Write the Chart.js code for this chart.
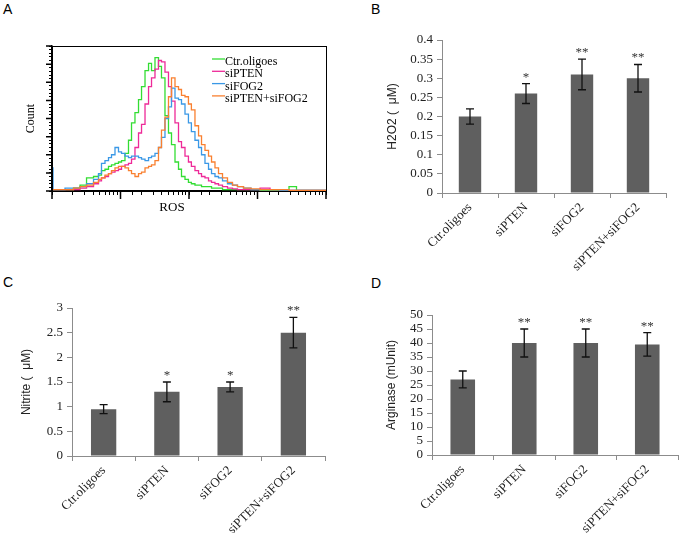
<!DOCTYPE html>
<html>
<head>
<meta charset="utf-8">
<script src="https://cdn.jsdelivr.net/npm/chart.js@4.4.1/dist/chart.umd.min.js"></script>
<style>
  body { margin: 0; background: #fff; width: 679px; height: 533px; position: relative; overflow: hidden; }
  canvas { position: absolute; }
  .tag { position: absolute; font: 14px "Liberation Sans", Arial, sans-serif; line-height: 1; color: #000; }
</style>
</head>
<body>
<div class="tag" style="left:3px;top:2px">A</div>
<div class="tag" style="left:371px;top:2px">B</div>
<div class="tag" style="left:3px;top:275px">C</div>
<div class="tag" style="left:371px;top:276px">D</div>

<canvas id="chartA" width="340" height="240" style="left:0;top:0"></canvas>
<canvas id="chartB" width="339" height="272" style="left:340px;top:0"></canvas>
<canvas id="chartC" width="340" height="271" style="left:0;top:262px"></canvas>
<canvas id="chartD" width="339" height="261" style="left:340px;top:272px"></canvas>

<script>
// panel A: ROS flow histogram (log x, counts)
const rosBins = [1, 1.07, 1.31, 1.83, 2.32, 2.84, 3.59, 4.54, 5.02, 5.55,
  6.35, 7.03, 7.77, 8.89, 9.83, 10.9, 12.4, 13.8, 15.2, 17.4,
  19.3, 21.3, 24.4, 27.0, 29.8, 34.1, 37.7, 41.7, 47.7, 52.8,
  58.4, 66.8, 73.9, 81.7, 93.5, 103, 114, 131, 145, 160,
  183, 203, 224, 256, 284, 335, 397, 469, 555, 703,
  919, 1290, 1800, 2520, 3300, 4170, 5830, 10000];
const ctrCounts = [1, 1, 1, 1, 2, 4, 9, 10, 11, 14,
  15, 17, 18, 19, 20, 21, 26, 35, 47, 54,
  63, 72, 83, 88, 83, 92, 86, 78, 52, 40,
  32, 20, 15, 10, 8, 6, 5, 4, 4, 3,
  3, 3, 2, 2, 2, 1, 1, 1, 1, 1,
  1, 0.5, 0.5, 0.5, 3, 0.5, 0.5, 0.5];
const ptenCounts = [1, 1, 1, 1, 1, 2, 3, 5, 7, 9,
  10, 12, 13, 14, 15, 17, 18, 19, 22, 30,
  40, 46, 60, 72, 78, 84, 90, 89, 82, 72,
  62, 47, 34, 30, 24, 20, 17, 14, 12, 10,
  9, 7, 6, 5, 4, 3, 2, 1.5, 1, 1,
  1, 2, 1, 0.5, 0.5, 0.5, 0.5, 0.5];
const fogCounts = [16, 1, 1, 2, 2, 3, 5, 8, 12, 19,
  21, 23, 25, 30, 27, 26, 24, 23, 24, 24,
  23, 22, 21, 23, 24, 26, 30, 37, 50, 58,
  71, 64, 63, 60, 53, 47, 41, 35, 30, 25,
  19, 15, 12, 10, 9, 7, 5, 4, 3, 2,
  1, 1, 1, 0.5, 0.5, 0.5, 0.5, 0.5];
const bothCounts = [1, 1, 1, 1, 2, 3, 4, 6, 8, 9,
  11, 12, 14, 16, 17, 17, 16, 14, 12, 10,
  12, 13, 16, 17, 18, 21, 30, 42, 51, 65,
  78, 72, 70, 66, 65, 60, 56, 45, 38, 32,
  28, 24, 20, 16, 12, 9, 6, 4, 3, 2,
  1.5, 1, 1, 1, 0.5, 0.5, 0.5, 0.5];
const histLabels = ['Ctr.oligoes', 'siPTEN', 'siFOG2', 'siPTEN+siFOG2'];
const histColors = ['#33dd33', '#ee2a98', '#3a98e6', '#f98030'];

// panels B, C, D: bar charts with SD and significance marks
const groups = ['Ctr.oligoes', 'siPTEN', 'siFOG2', 'siPTEN+siFOG2'];
const h2o2 = [0.2, 0.26, 0.31, 0.3];
const h2o2Err = [0.02, 0.026, 0.04, 0.036];
const h2o2Sig = ['', '*', '**', '**'];
const nitrite = [0.95, 1.3, 1.4, 2.5];
const nitriteErr = [0.09, 0.2, 0.1, 0.31];
const nitriteSig = ['', '*', '*', '**'];
const arginase = [27, 40, 40, 39.5];
const arginaseErr = [3, 5, 5, 4.2];
const arginaseSig = ['', '**', '**', '**'];

const serif = '"Liberation Serif", "Times New Roman", serif';
const sans = '"Liberation Sans", Arial, sans-serif';
Chart.defaults.font.family = serif;
Chart.defaults.color = '#222';
Chart.defaults.animation = false;

// frame, long ticks, legend and x title for the histogram
const flowBox = {
  id: 'flowBox',
  afterDraw(chart) {
    const { ctx, chartArea: a, scales: { x, y } } = chart;
    ctx.save();
    ctx.strokeStyle = '#000';
    ctx.lineWidth = 1;
    ctx.strokeRect(a.left + 0.5, a.top + 0.5, a.right - a.left, a.bottom - a.top);
    ctx.lineWidth = 1.5;
    ctx.beginPath();
    [1, 10, 100, 1000, 10000].forEach(v => {
      const px = x.getPixelForValue(v);
      ctx.moveTo(px, a.bottom);
      ctx.lineTo(px, a.bottom + 8);
    });
    for (let v = 0; v <= 100; v += 12.5) {
      const py = y.getPixelForValue(v);
      ctx.moveTo(a.left, py);
      ctx.lineTo(a.left - 6, py);
    }
    ctx.stroke();

    // legend inside the plot
    ctx.font = '12px ' + serif;
    ctx.textBaseline = 'middle';
    ctx.textAlign = 'left';
    chart.data.datasets.forEach((ds, i) => {
      const ry = a.top + 16 + i * 12.3;
      ctx.strokeStyle = ds.borderColor;
      ctx.lineWidth = 1.3;
      ctx.beginPath();
      ctx.moveTo(a.left + 160, ry - 3);
      ctx.lineTo(a.left + 173, ry - 3);
      ctx.stroke();
      ctx.fillStyle = '#000';
      ctx.fillText(ds.label, a.left + 173, ry);
    });

    ctx.font = '13px ' + serif;
    ctx.textAlign = 'center';
    ctx.fillText('ROS', (a.left + a.right) / 2 - 17, a.bottom + 17);
    ctx.restore();
  }
};

new Chart(document.getElementById('chartA'), {
  type: 'line',
  data: {
    datasets: [ctrCounts, ptenCounts, fogCounts, bothCounts].map((counts, i) => ({
      label: histLabels[i],
      data: rosBins.map((x, j) => ({ x: x, y: counts[j] })),
      borderColor: histColors[i],
      borderWidth: 1.3,
      pointRadius: 0,
      stepped: 'middle',
      fill: false,
      order: 4 - i
    }))
  },
  options: {
    responsive: false,
    layout: { padding: { top: 46, right: 14, left: 0, bottom: 0 } },
    plugins: { legend: { display: false }, tooltip: { enabled: false } },
    scales: {
      x: {
        type: 'logarithmic', min: 1, max: 10000,
        ticks: { display: false },
        grid: { drawOnChartArea: false, tickLength: 4, color: '#000' },
        border: { color: '#000', width: 1.5 },
        afterFit: s => { s.height = 49; }
      },
      y: {
        min: 0, max: 100,
        ticks: { display: false, stepSize: 2.5 },
        grid: { drawOnChartArea: false, tickLength: 3, color: '#000' },
        border: { color: '#000', width: 1.5 },
        title: { display: true, text: 'Count', font: { size: 12 }, color: '#000', padding: { top: 24, bottom: 0 } },
        afterFit: s => { s.width = 52; }
      }
    }
  },
  plugins: [flowBox]
});

// error bars and asterisks above each bar
const errorBars = {
  id: 'errorBars',
  afterDatasetsDraw(chart, args, opts) {
    const { ctx } = chart;
    const y = chart.scales.y;
    const values = chart.data.datasets[0].data;
    ctx.save();
    ctx.strokeStyle = '#111';
    ctx.lineWidth = 1.3;
    ctx.fillStyle = '#333';
    ctx.font = '13px ' + serif;
    ctx.textAlign = 'center';
    ctx.textBaseline = 'alphabetic';
    chart.getDatasetMeta(0).data.forEach((bar, i) => {
      const hi = y.getPixelForValue(values[i] + opts.errors[i]);
      const lo = y.getPixelForValue(values[i] - opts.errors[i]);
      ctx.beginPath();
      ctx.moveTo(bar.x, hi); ctx.lineTo(bar.x, lo);
      ctx.moveTo(bar.x - 4, hi); ctx.lineTo(bar.x + 4, hi);
      ctx.moveTo(bar.x - 4, lo); ctx.lineTo(bar.x + 4, lo);
      ctx.stroke();
      if (opts.marks[i]) ctx.fillText(opts.marks[i], bar.x, hi - 3);
    });
    ctx.restore();
  }
};

function barChart(id, values, errors, marks, yMax, step, yTitle, geo) {
  new Chart(document.getElementById(id), {
    type: 'bar',
    data: {
      labels: groups,
      datasets: [{ data: values, backgroundColor: '#5f5f5f', borderWidth: 0, barPercentage: 0.4, categoryPercentage: 1 }]
    },
    options: {
      responsive: false,
      layout: { padding: { top: geo.top, right: geo.right, left: 0, bottom: 0 } },
      plugins: { legend: { display: false }, tooltip: { enabled: false }, errorBars: { errors, marks } },
      scales: {
        x: {
          grid: { drawOnChartArea: false, tickLength: 5, color: '#8c8c8c', offset: true },
          border: { color: '#8c8c8c' },
          ticks: { font: { size: 13 }, color: '#222', minRotation: 45, maxRotation: 45, padding: 2 },
          afterFit: s => { s.height = geo.xh; }
        },
        y: {
          min: 0, max: yMax,
          grid: { drawOnChartArea: false, tickLength: 5, color: '#8c8c8c' },
          border: { color: '#8c8c8c' },
          ticks: {
            stepSize: step, autoSkip: false, font: { size: 13 }, color: '#222', padding: 4,
            callback: v => String(Number(v.toFixed(3)))
          },
          title: { display: true, text: yTitle, font: { family: sans, size: 12 }, color: '#222', padding: { top: geo.tx - 7.2, bottom: 0 } },
          afterFit: s => { s.width = geo.yw; }
        }
      }
    },
    plugins: [errorBars]
  });
}

barChart('chartB', h2o2, h2o2Err, h2o2Sig, 0.4, 0.05, 'H2O2 (  \u03bcM)', { top: 40, right: 13, yw: 102, xh: 79, tx: 53 });
barChart('chartC', nitrite, nitriteErr, nitriteSig, 3, 0.5, 'Nitrite (  \u03bcM)', { top: 46, right: 15, yw: 72, xh: 77, tx: 27 });
barChart('chartD', arginase, arginaseErr, arginaseSig, 50, 5, 'Arginase (mUnit)', { top: 43, right: 1, yw: 92, xh: 78, tx: 52 });
</script>
</body>
</html>
